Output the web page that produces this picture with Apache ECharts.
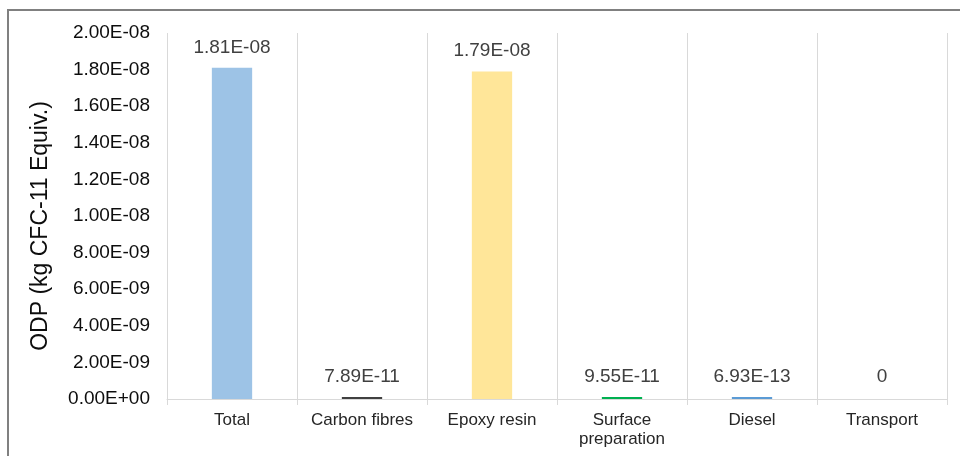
<!DOCTYPE html>
<html>
<head>
<meta charset="utf-8">
<script src="https://cdn.jsdelivr.net/npm/echarts@6/dist/echarts.min.js"></script>
<style>
  html, body { margin: 0; padding: 0; background: #fff; }
  #chart { width: 960px; height: 456px; }
</style>
</head>
<body>
<div id="chart"></div>
<script>
// Ozone depletion potential by life-cycle stage
const categories = ['Total', 'Carbon fibres', 'Epoxy resin', 'Surface\npreparation', 'Diesel', 'Transport'];
const odpValues = [1.81e-8, 7.89e-11, 1.79e-8, 9.55e-11, 6.93e-13, 0];
const barColors = ['#9DC3E6', '#404040', '#FFE699', '#00B050', '#5B9BD5', 'rgba(0,0,0,0)'];
const yTicks = { min: 0, max: 2e-8, interval: 2e-9 };

// Scientific notation with a two-digit exponent, e.g. 1.81E-08
function sci(v) {
  if (v === 0) return '0.00E+00';
  const s = v.toExponential(2).toUpperCase();
  const m = s.match(/^(-?[\d.]+)E([+-])(\d+)$/);
  const exp = m[3].length < 2 ? '0' + m[3] : m[3];
  return m[1] + 'E' + m[2] + exp;
}

const font = 'Liberation Sans, Arial, sans-serif';
const chart = echarts.init(document.getElementById('chart'), null, { renderer: 'canvas' });

chart.setOption({
  animation: false,
  backgroundColor: '#ffffff',
  graphic: [{
    type: 'rect',
    shape: { x: 8, y: 10, width: 970, height: 470 },
    style: { fill: 'none', stroke: '#808080', lineWidth: 2 },
    silent: true
  }],
  grid: { left: 167, right: 13, top: 33, bottom: 57 },
  xAxis: {
    type: 'category',
    data: categories,
    boundaryGap: true,
    axisLine: { show: true, lineStyle: { color: '#D9D9D9', width: 1 } },
    axisTick: { show: true, length: 6, lineStyle: { color: '#D9D9D9' } },
    splitLine: { show: true, lineStyle: { color: '#D9D9D9', width: 1 } },
    axisLabel: {
      interval: 0,
      margin: 12,
      fontFamily: font,
      fontSize: 17,
      lineHeight: 19,
      color: '#262626'
    }
  },
  yAxis: {
    type: 'value',
    min: yTicks.min,
    max: yTicks.max,
    interval: yTicks.interval,
    name: 'ODP (kg CFC-11 Equiv.)',
    nameLocation: 'middle',
    nameGap: 115,
    nameRotate: 90,
    nameTextStyle: { fontFamily: font, fontSize: 23, color: '#0d0d0d', padding: [0, 20, 0, 0] },
    axisLine: { show: false },
    axisTick: { show: false },
    splitLine: { show: false },
    axisLabel: {
      formatter: sci,
      margin: 17,
      fontFamily: font,
      fontSize: 19,
      color: '#0d0d0d'
    }
  },
  series: [{
    type: 'bar',
    data: odpValues.map((v, i) => ({ value: v, itemStyle: { color: barColors[i] } })),
    barWidth: '31%',
    barMinHeight: 2,
    label: {
      show: true,
      position: 'top',
      distance: 11,
      fontFamily: font,
      fontSize: 19,
      color: '#404040',
      formatter: p => (p.value === 0 ? '0' : sci(p.value))
    }
  }]
});
</script>
</body>
</html>
